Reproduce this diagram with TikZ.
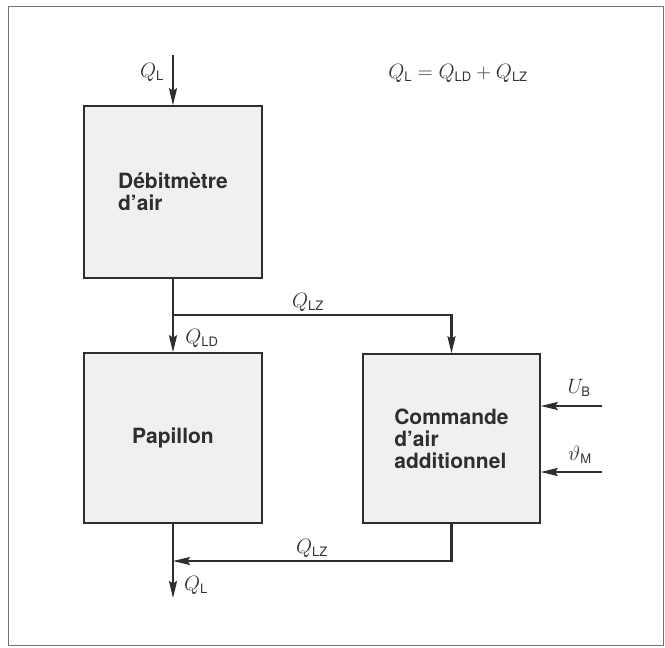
\documentclass[tikz,border=0pt]{standalone}
\usepackage{fontspec}
\setsansfont{TeX Gyre Heros}
\usetikzlibrary{arrows.meta}
\definecolor{ink}{HTML}{2E2E2E}
\newcommand{\sub}[1]{_{\textsf{\fontsize{13}{13}\selectfont #1}}}
\begin{document}
\begin{tikzpicture}[x=1pt,y=-1pt,
  blk/.style={draw=ink,line width=1.5pt,fill=black!6,minimum width=178pt,inner sep=0pt,
    font=\sffamily\bfseries\fontsize{21}{22}\selectfont,text=ink,align=left},
  flow/.style={draw=ink,line width=2.2pt,-{Stealth[length=17pt,width=8pt,inset=2.5pt]}},
  lbl/.style={font=\fontsize{21}{21}\selectfont,text=black!80,inner sep=0pt}]
\useasboundingbox (0,0) rectangle (665,648);
\draw[black!55,line width=0.8pt] (8,6) rectangle (663,645);
% blocks
\node[blk,minimum height=172pt] (deb) at (173,192) {Débitmètre\\d'air};
\node[blk,minimum height=170pt] (pap) at (173,438) {Papillon};
\node[blk,minimum width=177pt,minimum height=169pt] (cmd) at (451.5,438.5) {Commande\\d'air\\additionnel};
% coordinates
\coordinate (qin) at (173,55);
\coordinate (br) at (173,315);
\coordinate (jn) at (173,561);
\coordinate (qout) at (173,598);
\coordinate (ub) at (602,406);
\coordinate (th) at (602,472);
% connectors
\draw[flow] (qin) -- (deb.north);
\draw[flow] (deb.south) -- (pap.north);
\draw[flow] (br) -| (cmd.north);
\draw[flow] (cmd.south) |- (jn);
\draw[flow] (pap.south) -- (qout);
\draw[flow] (ub) -- (ub -| cmd.east);
\draw[flow] (th) -- (th -| cmd.east);
% labels
\node[lbl] (lq1) at (152,72) {$Q\sub{L}$};
\node[lbl] (eq) at (458,73) {$Q\sub{L} = Q\sub{LD} + Q\sub{LZ}$};
\node[lbl] (lqz1) at (308,302) {$Q\sub{LZ}$};
\node[lbl] (lqd) at (202,338) {$Q\sub{LD}$};
\node[lbl] (lub) at (579,388) {$U\sub{B}$};
\node[lbl] (lth) at (580,455) {$\vartheta\sub{M}$};
\node[lbl] (lqz2) at (312,548) {$Q\sub{LZ}$};
\node[lbl] (lq2) at (196,585) {$Q\sub{L}$};
\end{tikzpicture}
\end{document}
